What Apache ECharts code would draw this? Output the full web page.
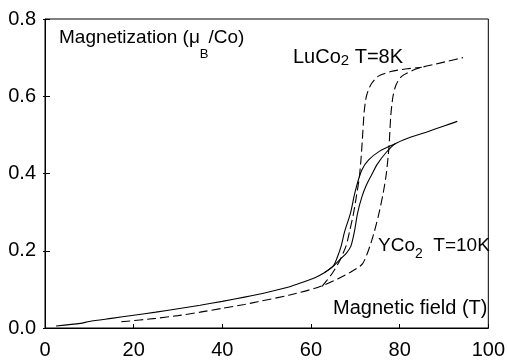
<!DOCTYPE html>
<html>
<head>
<meta charset="utf-8">
<script src="https://cdn.jsdelivr.net/npm/echarts@6/dist/echarts.min.js"></script>
<style>
html,body{margin:0;padding:0;background:#fff;}
#chart{width:508px;height:360px;}
</style>
</head>
<body>
<div id="chart"></div>
<script>
// ---- Data (x = magnetic field in T, y = magnetization in muB/Co) ----
const xTicks = [0, 20, 40, 60, 80, 100];
const yTicks = [0.0, 0.2, 0.4, 0.6, 0.8];

// YCo2, T=10K (solid) - common low-field part
const yco2Low = [[2.5,0.005],[8,0.012],[10,0.017],[15,0.025],[20,0.033],[25,0.041],[30,0.05],[35,0.059],[40,0.069],[45,0.08],[50,0.092],[55,0.106],[58,0.118],[61,0.131],[63,0.143],[65,0.16]];
// field-up branch
const yco2UpBranch = [[66.6,0.178],[68,0.194],[69,0.212],[69.8,0.25],[70.5,0.297],[71.5,0.34],[72.5,0.37],[73.6,0.395],[75,0.425],[77,0.455],[79,0.477]];
// field-down branch
const yco2DownBranch = [[66,0.185],[66.8,0.212],[67.6,0.25],[68.9,0.297],[69.8,0.345],[70.6,0.38],[71.5,0.41],[73,0.435],[75.5,0.458],[79,0.477]];
// common high-field part
const yco2High = [[82,0.492],[86,0.507],[90,0.523],[93,0.535]];

// LuCo2, T=8K (dashed) - field-up branch
const luco2Up = [[17.2,0.016],[25,0.025],[30,0.032],[35,0.041],[40,0.051],[45,0.061],[48,0.068],[55,0.085],[61.5,0.105],[66,0.127],[69,0.145],[71.6,0.166],[73.3,0.212],[74.3,0.25],[75.2,0.29],[76.3,0.35],[77,0.4],[77.6,0.47],[78,0.55],[78.5,0.6],[79.2,0.63],[80.5,0.652],[83,0.667],[85,0.675],[88,0.683],[91,0.691],[94.3,0.70]];
// field-down branch
const luco2Down = [[62.5,0.108],[63.5,0.122],[65,0.145],[66.5,0.175],[67.9,0.212],[68.8,0.255],[69.6,0.297],[70.3,0.345],[70.9,0.39],[71.3,0.44],[71.6,0.49],[72,0.56],[72.5,0.6],[73.5,0.63],[75.2,0.652],[78,0.664],[81.7,0.671],[85,0.675]];

const FONT = '"Liberation Sans", Arial, Helvetica, sans-serif';
const chart = echarts.init(document.getElementById('chart'), null, {renderer:'canvas'});

const mctx = document.createElement('canvas').getContext('2d');
function tw(text, size) { mctx.font = size + 'px ' + FONT; return mctx.measureText(text).width; }

function lineSeries(data, dashed) {
  return {
    type: 'line',
    data: data,
    xAxisIndex: 0, yAxisIndex: 0,
    showSymbol: false, symbol: 'none',
    smooth: 0.25,
    silent: true,
    animation: false,
    lineStyle: {color: '#000', width: 1.1, type: dashed ? [9, 4] : 'solid'}
  };
}

function txt(text, x, y, size) {
  return {type:'text', x: x, y: y, silent: true,
    style: {text: text, fill: '#000', fontSize: size, fontFamily: FONT, align: 'left', verticalAlign: 'middle'}};
}
// text with a subscript piece: [main, sub, rest]
function subText(parts, x, y, size, subSize, subDy) {
  const out = [];
  let cx = x;
  out.push(txt(parts[0], cx, y, size)); cx += tw(parts[0], size);
  out.push(txt(parts[1], cx, y + subDy, subSize)); cx += tw(parts[1], subSize);
  out.push(txt(parts[2], cx, y, size));
  return out;
}

const yMin = yTicks[0], yMax = yTicks[yTicks.length-1];
const xMin = xTicks[0], xMax = xTicks[xTicks.length-1];

chart.setOption({
  animation: false,
  backgroundColor: '#fff',
  grid: {left: 45, right: 16, top: 19, bottom: 27, show: true, borderColor: '#000', borderWidth: 1, backgroundColor: 'transparent'},
  xAxis: {
    type: 'value', min: xMin, max: xMax, interval: xTicks[1]-xTicks[0],
    axisLine: {show: true, lineStyle: {color: '#000', width: 1}},
    axisTick: {show: true, inside: true, length: 4, lineStyle: {color: '#000'}},
    axisLabel: {color: '#000', fontSize: 20, fontFamily: FONT, margin: 12},
    splitLine: {show: false}
  },
  yAxis: [{
    type: 'value', min: yMin, max: yMax, interval: 0.2,
    axisLine: {show: true, lineStyle: {color: '#000', width: 1}},
    axisTick: {show: true, inside: false, length: 2, lineStyle: {color: '#000'}},
    axisLabel: {color: '#000', fontSize: 20, fontFamily: FONT, margin: 9, formatter: v => v.toFixed(1)},
    splitLine: {show: false}
  },{
    type: 'value', min: yMin, max: yMax, interval: 0.2, position: 'left',
    axisLine: {show: false},
    axisTick: {show: true, inside: true, length: 5, lineStyle: {color: '#000'}},
    axisLabel: {show: false},
    splitLine: {show: false}
  }],
  series: [
    lineSeries(yco2Low.concat(yco2UpBranch, yco2High), false),
    lineSeries(yco2Low.slice(-2).concat(yco2DownBranch), false),
    lineSeries(luco2Up, true),
    lineSeries(luco2Down, true)
  ],
  graphic: [].concat(
    subText(['Magnetization (\u03bc', 'B', '/Co)'], 59, 38, 19, 13, 16),
    subText(['LuCo', '2', ' T=8K'], 293, 57, 20, 15, 4),
    subText(['YCo', '2', '  T=10K'], 378, 246, 19, 14, 8),
    [txt('Magnetic field (T)', 333, 308, 20)]
  )
});
</script>
</body>
</html>
